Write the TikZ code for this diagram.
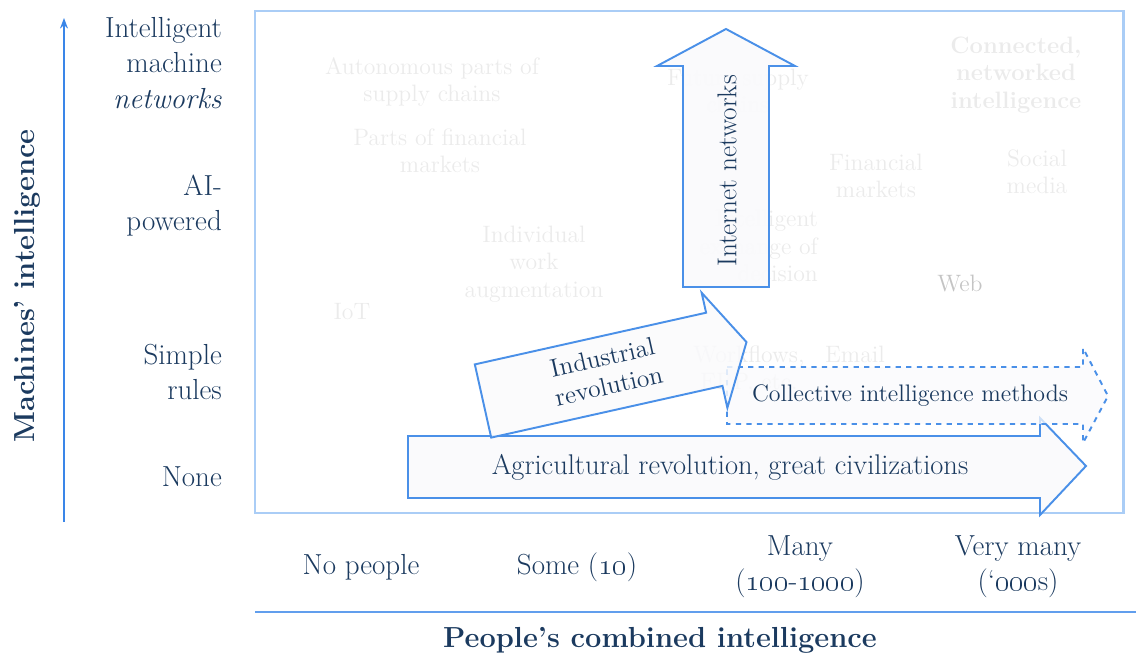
\documentclass[tikz,border=0pt]{standalone}
\usetikzlibrary{arrows.meta}
\definecolor{navy}{HTML}{1B3A5F}
\definecolor{axisblue}{HTML}{3A86E8}
\definecolor{frameblue}{HTML}{AACDF6}
\definecolor{arrowblue}{HTML}{4A90E8}
\definecolor{arrowfill}{HTML}{FAFAFC}
\definecolor{ghostgray}{HTML}{EBEBEB}
\definecolor{webgray}{HTML}{C4C4C4}

\begin{document}
\begin{tikzpicture}[
    x={(0.02cm,0)}, y={(0,-0.02cm)},
    lvl/.style={align=right, anchor=east, text=navy, font=\fontsize{16.5}{20}\selectfont},
    grp/.style={align=center, text=navy, font=\fontsize{16.5}{20}\selectfont},
    axtitle/.style={text=navy, font=\fontsize{16.5}{20}\selectfont\bfseries},
    ghost/.style={align=center, text=ghostgray, font=\fontsize{13.5}{15.5}\selectfont},
    bigarrow/.style={draw=arrowblue, line width=1.1pt, fill=arrowfill, line join=miter},
    arrowtext/.style={text=navy, align=center, font=\fontsize{14.5}{16.5}\selectfont},
]
    \useasboundingbox (0,0) rectangle (1136,658);

    \node[ghost] (autosupply) at (432,82) {Autonomous parts of\\supply chains};
    \node[ghost] (partsfin) at (440,151) {Parts of financial\\markets};
    \node[ghost] (indwork) at (534,264) {Individual\\work\\augmentation};
    \node[ghost] (iot) at (352,312) {IoT};
    \node[ghost, font=\fontsize{13.5}{15.5}\selectfont\bfseries] (connected) at (1016,75) {Connected,\\networked\\intelligence};
    \node[ghost] (finmarkets) at (876,176) {Financial\\markets};
    \node[ghost] (social) at (1037,172) {Social\\media};
    \node[ghost, text=webgray] (web) at (960,284) {Web};
    \node[ghost] (futsupply) at (738,91) {Future supply\\chains};
    \node[ghost, align=right, anchor=east] (exchange) at (824,246) {Intelligent\\exchange of\\decision};
    \node[ghost] (workflows) at (749,370) {Workflows,\\ERP, etc.};
    \node[ghost] (email) at (855,354) {Email};

    \draw[frameblue, line width=1.7pt] (255,11) rectangle (1123,513);

    \draw[bigarrow] (408,436) -- (1040,436) -- (1040,418) -- (1086,466)
        -- (1040,515) -- (1040,498) -- (408,498) -- cycle;
    \node[arrowtext, font=\fontsize{16.2}{18}\selectfont] (agri) at (730,467) {Agricultural revolution, great civilizations};

    \draw[bigarrow, dashed, fill opacity=0.75] (727,367) -- (1083,367) -- (1083,348) -- (1108,396)
        -- (1083,443) -- (1083,424) -- (727,424) -- cycle;
    \node[arrowtext, font=\fontsize{13.6}{15}\selectfont] (collective) at (910,396) {Collective intelligence methods};

    \begin{scope}[shift={(483,401)}, rotate=12.6]
        \draw[bigarrow, fill opacity=0.85] (0,-37.5) -- (237,-37.5) -- (237,-58) -- (270,0)
            -- (237,60) -- (237,37.5) -- (0,37.5) -- cycle;
        \node[arrowtext, rotate=12.6] (industrial) at (126,-2) {Industrial\\revolution};
    \end{scope}

    \draw[bigarrow, fill opacity=0.94] (683,287) -- (683,66) -- (657,66) -- (726,29) -- (795,66)
        -- (769,66) -- (769,287) -- cycle;
    \node[arrowtext, rotate=90, font=\fontsize{15.5}{17}\selectfont] (internet) at (727,171) {Internet networks};

    \node[lvl] (lvlnet) at (228,63) {Intelligent\\machine\\\textit{networks}};
    \node[lvl] (lvlai) at (228,206) {AI-\\powered};
    \node[lvl] (lvlrules) at (228,372) {Simple\\rules};
    \node[lvl] (lvlnone) at (228,477) {None};

    \coordinate (ybot) at (64,522);
    \coordinate (ytop) at (64,18);
    \draw[axisblue, line width=0.85pt, -{Stealth[length=6pt, width=4.5pt]}] (ybot) -- (ytop);
    \node[axtitle, rotate=90] (yaxis) at (27,286) {Machines' intelligence};

    \node[grp] (grpnone) at (361,567) {No people};
    \node[grp] (grpsome) at (577,567) {Some (\oldstylenums{10})};
    \node[grp] (grpmany) at (800,567) {Many\\(\oldstylenums{100}-\oldstylenums{1000})};
    \node[grp] (grpvmany) at (1018,567) {Very many\\(`\oldstylenums{000}s)};

    \coordinate (xl) at (255,612);
    \coordinate (xr) at (1136,612);
    \draw[axisblue!80, line width=1.1pt] (xl) -- (xr);
    \node[axtitle] (xaxis) at (660,640) {People's combined intelligence};
\end{tikzpicture}
\end{document}
